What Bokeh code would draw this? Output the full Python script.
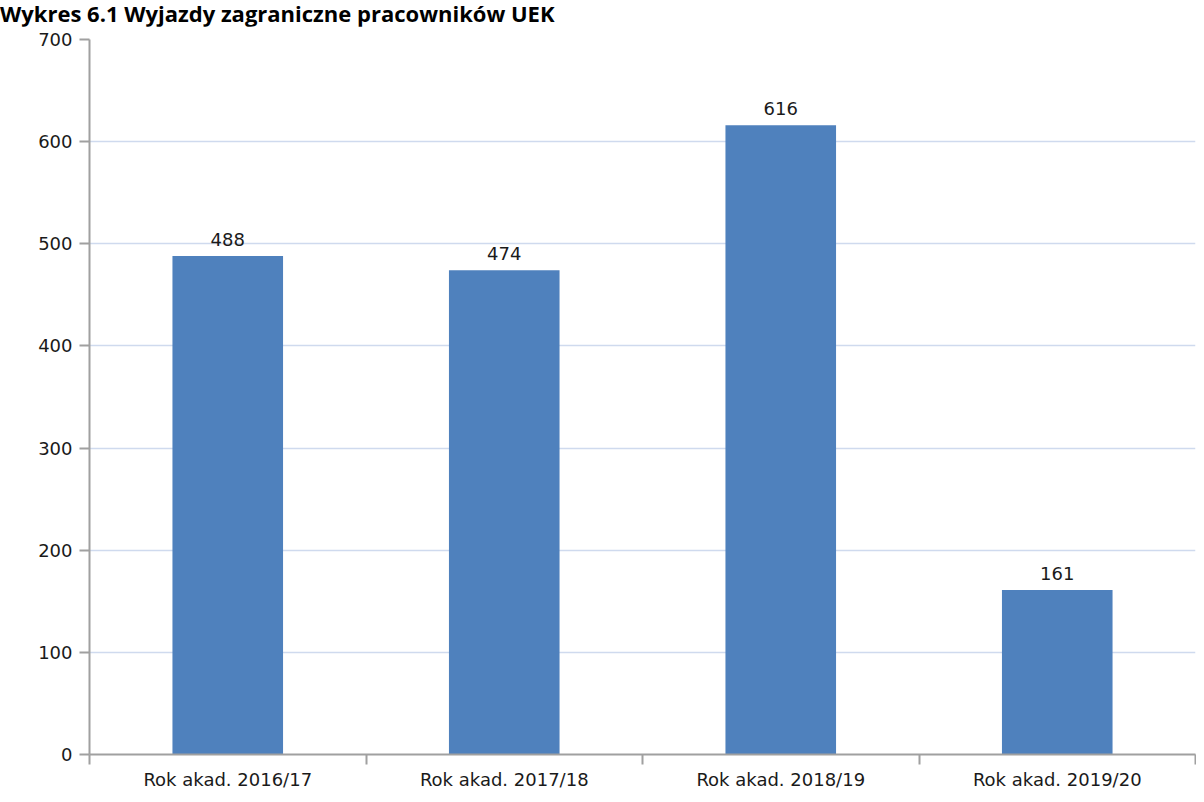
from bokeh.plotting import figure
from bokeh.models import Range1d, FixedTicker, Div
from bokeh.layouts import column
from bokeh.core.properties import value
from bokeh.embed import file_html
from bokeh.resources import INLINE

title_text = "Wykres 6.1 Wyjazdy zagraniczne pracowników UEK"
categories = ["Rok akad. 2016/17", "Rok akad. 2017/18", "Rok akad. 2018/19", "Rok akad. 2019/20"]
values = [488, 474, 616, 161]
y_ticks = [0, 100, 200, 300, 400, 500, 600, 700]

BAR = "#4F81BD"
AXIS = "#a0a0a0"
GRID = "#cfdaee"
FONT = "DejaVu Sans"
TXT = "#1a1a1a"

W = 1196
TOP_H = 26
MAIN_H = 794 - TOP_H

title = Div(text=title_text, width=W, height=TOP_H,
            styles={"font-family": "Open Sans", "font-weight": "bold",
                    "font-size": "22px", "line-height": "26px",
                    "white-space": "nowrap", "color": "#000000",
                    "margin": "0", "padding": "0"})

n = len(categories)
xs = [i + 0.5 for i in range(n)]

p = figure(width=W, height=MAIN_H, output_backend="svg", toolbar_location=None,
           x_range=Range1d(0, n), y_range=Range1d(0, 700),
           min_border_left=89, min_border_right=1, min_border_top=39 - TOP_H,
           min_border_bottom=MAIN_H - (754 - TOP_H))
p.outline_line_color = None

p.vbar(x=xs, top=values, width=0.4, color=BAR, line_color=None)
p.text(x=xs, y=values, text=[str(v) for v in values], text_align="center",
       text_baseline="bottom", y_offset=-10, text_font=value(FONT),
       text_font_size="18px", text_color=TXT)

# y axis
p.yaxis.ticker = FixedTicker(ticks=y_ticks)
p.yaxis.axis_line_color = AXIS
p.yaxis.axis_line_width = 2
p.yaxis.major_tick_line_color = AXIS
p.yaxis.major_tick_line_width = 2
p.yaxis.major_tick_out = 10
p.yaxis.major_tick_in = 0
p.yaxis.minor_tick_line_color = None
p.yaxis.major_label_standoff = 7
p.yaxis.major_label_text_font = FONT
p.yaxis.major_label_text_font_size = "18px"
p.yaxis.major_label_text_color = TXT

# x axis: labels at category centres, tick marks at category boundaries
p.xaxis.ticker = FixedTicker(ticks=xs, minor_ticks=list(range(n + 1)))
p.xaxis.major_label_overrides = {x: c for x, c in zip(xs, categories)}
p.xaxis.axis_line_color = AXIS
p.xaxis.axis_line_width = 2
p.xaxis.major_tick_line_color = None
p.xaxis.major_tick_out = 10
p.xaxis.minor_tick_line_color = AXIS
p.xaxis.minor_tick_line_width = 2
p.xaxis.minor_tick_out = 10
p.xaxis.minor_tick_in = 0
p.xaxis.major_label_standoff = 4
p.xaxis.major_label_text_font = FONT
p.xaxis.major_label_text_font_size = "18px"
p.xaxis.major_label_text_color = TXT

p.xgrid.grid_line_color = None
p.ygrid.ticker = FixedTicker(ticks=y_ticks)
p.ygrid.grid_line_color = GRID
p.ygrid.grid_line_width = 1.5

layout = column(title, p, spacing=0)
open("out.html", "w").write(file_html(layout, INLINE))
